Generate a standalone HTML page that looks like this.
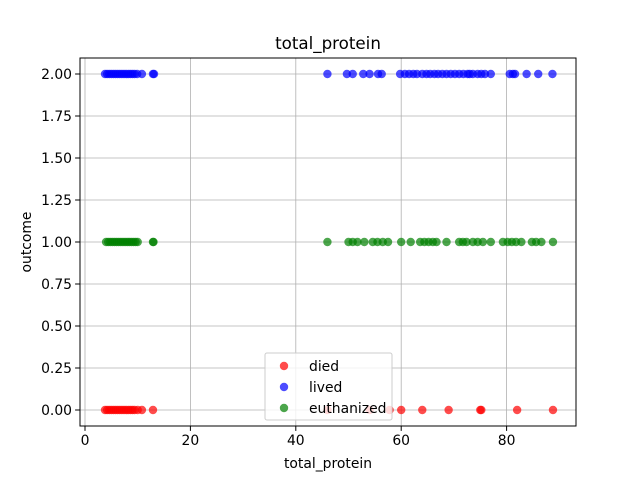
<!DOCTYPE html>
<html><head><meta charset="utf-8"><style>
body{margin:0;background:#fff;}
svg{display:block;font-family:"DejaVu Sans","Liberation Sans",sans-serif;}
</style></head><body>
<svg id="chart" width="640" height="480"></svg>
<script>
const categories = ["died","lived","euthanized"];
const outcomeValues = [0, 2, 1];
const diedX = [3.8,4.2,4.6,5,5.4,5.8,6.2,6.6,7,7.4,7.8,8.2,8.6,9,9.4,10,10.8,12.9,46,54,57.8,60,64,69,75,75.2,82,88.8];
const livedX = [3.8,4.2,4.6,5,5.4,5.8,6.2,6.6,7,7.4,7.8,8.2,8.6,9,9.4,9.9,10.8,12.9,13.1,46,49.7,50.8,52.8,54,55.6,56.3,59.8,60.7,61.5,62.3,63,64,64.8,65.5,66.3,67,67.8,68.6,69.4,70.2,71,71.8,72.6,73,73.6,74.5,75.2,75.9,77,80.6,81.2,81.6,83.8,86,88.7];
const euthX = [4,4.4,4.8,5.2,5.6,6,6.4,6.8,7.2,7.6,8,8.4,8.8,9.2,9.6,10,12.9,13,46,50,50.8,51.7,53,54.6,55.5,56.5,57.5,60,61.8,63.6,64.4,65.2,66,66.7,68.6,71,71.7,72.4,73.6,74.5,75.5,77,79.3,80.2,81,81.8,82.8,84.8,85.6,86.6,88.8];
const seriesX = [diedX, livedX, euthX];
const colors = ["rgba(255,0,0,0.7)","rgba(0,0,255,0.7)","rgba(0,128,0,0.7)"];
const xTicks = [0,20,40,60,80];
const yTicks = [0,0.25,0.5,0.75,1,1.25,1.5,1.75,2];
const yTickLabels = ["0.00","0.25","0.50","0.75","1.00","1.25","1.50","1.75","2.00"];

const L=80,R=576,T=58,B=426;
const xs=v=>85+v*5.27;
const ys=v=>410-v*168;
const svg=document.getElementById('chart');
const NS="http://www.w3.org/2000/svg";
function mk(tag,attrs,parent){const e=document.createElementNS(NS,tag);for(const k in attrs)e.setAttribute(k,attrs[k]);(parent||svg).appendChild(e);return e;}

const grid=mk('g',{});


xTicks.forEach(t=>{mk('line',{x1:xs(t),x2:xs(t),y1:T,y2:B,stroke:'#b0b0b0','stroke-width':0.8},grid);});
yTicks.forEach(t=>{mk('line',{x1:L,x2:R,y1:ys(t),y2:ys(t),stroke:'#b0b0b0','stroke-width':0.8},grid);});

seriesX.forEach((arr,i)=>{
  const g=mk('g',{fill:colors[i]});
  
  
  arr.forEach(v=>{
    const c=mk('circle',{cx:xs(v),cy:ys(outcomeValues[i]),r:4.2},g);
    
    
  });
});

const frame=mk('rect',{x:L,y:T,width:R-L,height:B-T,fill:'none',stroke:'#000','stroke-width':1});



xTicks.forEach(t=>{
  mk('line',{x1:xs(t),x2:xs(t),y1:B,y2:B+4.9,stroke:'#000'});
  const tx=mk('text',{x:xs(t),y:B+19,'text-anchor':'middle','font-size':13.9});
  tx.textContent=t;
  
  
});
yTicks.forEach((t,i)=>{
  mk('line',{x1:L-4.9,x2:L,y1:ys(t),y2:ys(t),stroke:'#000'});
  const tx=mk('text',{x:L-8,y:ys(t)+5,'text-anchor':'end','font-size':13.9});
  tx.textContent=yTickLabels[i];
  
  
});

const title=mk('text',{x:(L+R)/2,y:49,'text-anchor':'middle','font-size':16.7});
title.textContent='total_protein';


const xt=mk('text',{x:(L+R)/2,y:468,'text-anchor':'middle','font-size':13.9});
xt.textContent='total_protein';


const yt=mk('text',{x:31,y:(T+B)/2,'text-anchor':'middle','font-size':13.9,transform:'rotate(-90 31 '+((T+B)/2)+')'});
yt.textContent='outcome';



const lg=mk('g',{});


mk('rect',{x:265,y:353,width:127,height:67,rx:2,fill:'rgba(255,255,255,0.8)',stroke:'#ccc'},lg);
categories.forEach((c,i)=>{
  const y=366+i*21;
  mk('circle',{cx:284,cy:y,r:4.2,fill:colors[i]},lg);
  const t=mk('text',{x:309,y:y+5,'font-size':13.9},lg);
  t.textContent=c;
  
  
});
</script>
</body></html>
